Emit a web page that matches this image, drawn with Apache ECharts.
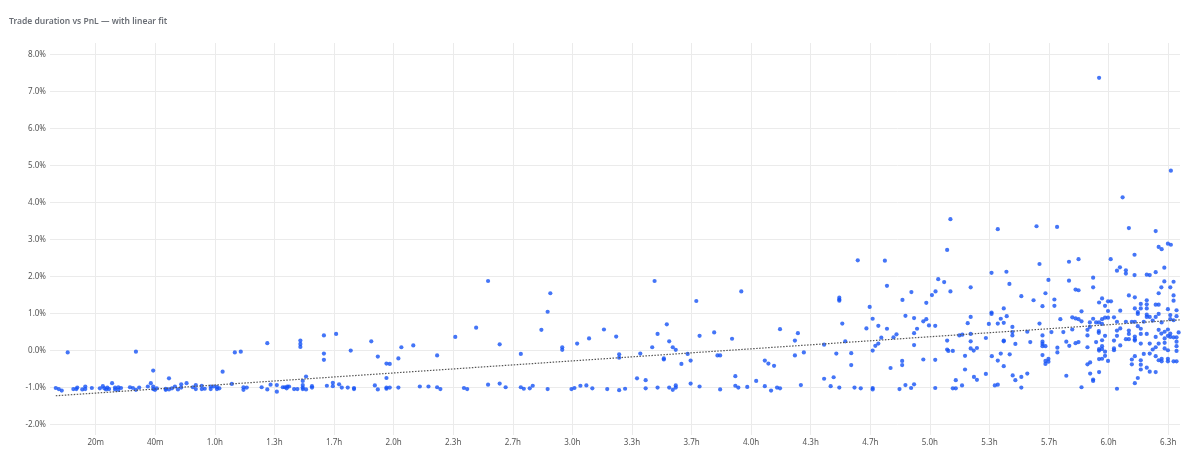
<!DOCTYPE html>
<html>
<head>
<meta charset="utf-8">
<script src="https://cdn.jsdelivr.net/npm/echarts@6/dist/echarts.min.js"></script>
<style>
html,body{margin:0;padding:0;background:#fff;}
#chart{width:1200px;height:465px;}
</style>
</head>
<body>
<div id="chart"></div>
<script>
// Trade duration in minutes and PnL in percent
const tradePoints = [
[6.6,-1.01],[7.6,-1.04],[8.6,-1.08],[10.6,-0.05],[12.5,-1.04],[13.5,-1.04],[13.8,-1.0],[15.5,-1.05],[16.5,-0.97],[16.5,-1.04],[18.7,-1.01],[21.4,-1.02],[22.4,-0.96],[22.9,-1.02],[23.5,-1.05],[23.9,-1.0],[24.5,-1.04],[25.5,-0.88],[26.5,-1.05],[26.5,-1.0],[27.6,-0.99],[27.6,-1.06],[28.5,-1.01],[31.5,-0.99],[32.5,-1.01],[33.5,-0.03],[33.5,-1.06],[34.6,-1.0],[37.5,-0.97],[38.5,-0.88],[39.3,-0.54],[39.3,-0.97],[39.3,-1.04],[39.9,-1.06],[40.5,-1.02],[43.5,-1.06],[43.5,-1.03],[44.6,-0.75],[44.6,-1.05],[45.6,-1.02],[46.6,-0.97],[47.6,-1.05],[48.7,-0.91],[48.7,-1.0],[50.5,-0.88],[52.6,-0.99],[53.6,-0.93],[53.6,-1.04],[55.6,-0.95],[55.6,-1.04],[56.6,-1.03],[58.6,-0.97],[58.6,-1.04],[59.6,-0.97],[60.7,-0.98],[60.7,-1.04],[61.5,-1.02],[62.6,-0.57],[65.7,-0.90],[66.7,-0.05],[68.7,-0.03],[69.6,-0.99],[69.6,-1.06],[70.7,-1.0],[75.7,-0.99],[77.6,0.20],[77.6,-1.05],[78.7,-0.92],[80.8,-0.93],[80.8,-1.11],
[82.8,-0.99],[83.5,-0.99],[84.1,-1.02],[84.3,-0.97],[84.9,-0.97],[86.6,-1.04],[87.7,-1.04],[88.7,0.27],[88.7,0.18],[88.7,0.10],[89.5,-0.82],[89.5,-0.93],[89.5,-1.0],[89.5,-1.04],[90.6,-0.70],[90.6,-1.05],[92.6,-0.96],[92.6,-1.0],[96.6,0.41],[96.6,-0.08],[96.6,-0.25],[97.6,-0.95],[99.6,-0.87],[99.6,-0.96],[100.7,0.45],[101.7,-0.91],[102.6,-1.0],[104.6,-1.0],[105.6,0.0],[106.7,-1.01],[106.7,-1.04],[112.5,0.25],[113.7,-0.94],[114.7,-0.16],[114.7,-1.05],[117.6,-0.35],[118.7,-0.36],[117.6,-0.74],[117.6,-1.0],[117.6,-1.03],[118.7,-1.0],[121.6,-0.21],[121.6,-1.0],[122.6,0.09],[126.6,0.14],[128.8,-0.97],[131.7,-0.97],[134.6,-0.13],[134.6,-0.99],[135.7,-1.04],[140.7,0.37],[143.6,-1.01],[144.7,-1.04],[147.7,0.62],
[151.7,1.88],[155.6,0.17],[151.7,-0.92],[155.6,-0.89],[157.6,-0.99],[162.7,-0.09],[162.7,-0.99],[163.7,-1.03],[165.7,-1.02],[166.7,-0.95],[169.6,0.56],[171.7,1.05],[172.6,1.55],[171.7,-1.04],[176.6,0.09],[176.6,0.02],[179.7,-1.04],[180.7,-1.01],[181.6,0.19],[182.7,-0.95],[184.7,-0.94],[185.6,0.33],[186.7,-1.02],[190.6,0.57],[191.7,-1.04],[194.7,0.38],[195.7,-0.10],[195.7,-0.19],[195.7,-1.07],[197.7,-1.03],[201.7,-0.75],[202.8,-0.08],[204.6,-0.80],[204.6,-1.02],[206.8,0.09],[207.6,1.88],[208.6,0.45],[208.6,-1.0],[210.7,-0.21],[210.7,-0.24],[211.7,0.71],[212.5,0.25],[212.5,-1.0],
[213.7,0.09],[214.7,0.02],[213.7,-1.06],[214.7,-0.94],[214.7,-1.0],[216.6,-0.36],[218.7,-0.09],[219.7,-0.27],[219.7,-0.89],[221.6,1.34],[222.7,0.40],[222.7,-0.97],[227.6,0.49],[228.7,-0.13],[229.6,-0.13],[229.6,-1.05],[233.6,0.32],[234.7,-0.69],[234.7,-0.95],[235.7,-1.0],[236.7,1.60],[238.7,-0.98],[241.7,-0.82],[244.6,-0.27],[244.6,-0.96],[245.8,-0.35],[246.7,-1.08],[247.7,-0.41],[248.7,-1.0],[249.7,-1.02],[249.7,0.58],[254.7,0.27],[254.7,-0.13],[255.7,0.47],[256.7,-0.93],[257.7,-0.05],[264.5,-0.76],[264.5,0.16],[266.7,-0.96],[267.7,-0.72],[268.6,-0.08],[269.6,1.43],[269.6,1.38],[269.6,1.35],[269.6,-1.0],[270.6,0.73],[271.6,0.25],[273.6,-0.07],[273.6,-0.39],[274.7,-1.0],
[306.9,3.55],[305.8,2.72],[275.8,2.44],[284.9,2.43],[302.8,1.93],[304.8,1.85],[306.9,1.60],[313.7,1.71],[285.6,1.75],[293.8,1.58],[301.9,1.60],[300.7,1.50],[290.8,1.37],[298.8,1.29],[279.8,1.18],[291.8,0.94],[294.7,0.88],[298.8,0.85],[297.8,0.79],[280.8,0.86],[313.7,0.91],[312.7,0.74],[278.7,0.60],[282.7,0.67],[285.6,0.59],[295.7,0.59],[299.7,0.68],[301.8,0.67],[288.8,0.44],[294.7,0.47],[287.8,0.36],[283.7,0.35],[309.9,0.41],[310.9,0.43],[313.7,0.45],[282.7,0.19],[281.7,0.13],[280.8,0.0],[294.7,0.15],[305.8,0.27],[305.8,0.03],[306.2,-0.01],[307.7,-0.01],[313.7,0.25],[313.7,0.06],[314.7,0.0],[315.8,0.07],[311.8,-0.14],[311.8,-0.51],[290.7,-0.28],[290.7,-0.39],[297.8,-0.24],[301.8,-0.25],[286.8,-0.47],[314.8,-0.71],[315.8,-0.79],[308.7,-0.80],[310.8,-0.94],[291.8,-0.93],[294.7,-0.91],[276.8,-1.02],[280.8,-1.01],[280.8,-1.05],[289.8,-1.04],[293.7,-1.01],[301.8,-1.01],[307.7,-1.02],[308.7,-1.02],
[322.8,3.28],[335.8,3.36],[342.7,3.34],[336.8,2.34],[346.7,2.40],[349.9,2.47],[320.7,2.10],[325.7,2.13],[339.8,1.91],[346.7,1.89],[326.7,1.80],[348.9,1.65],[349.9,1.63],[330.7,1.47],[338.8,1.55],[334.8,1.36],[341.8,1.38],[337.8,1.20],[341.8,1.21],[324.8,1.14],[320.7,1.03],[320.7,0.99],[350.9,1.06],[325.8,0.93],[323.8,0.86],[324.8,0.75],[322.8,0.73],[319.8,0.72],[343.8,0.85],[347.8,0.90],[348.9,0.87],[349.9,0.85],[350.9,0.79],[336.8,0.73],[327.7,0.64],[327.7,0.50],[327.7,0.41],[332.7,0.51],[337.8,0.41],[340.8,0.50],[344.8,0.50],[347.8,0.57],[352.9,0.56],[352.9,0.41],[318.8,0.34],[324.8,0.27],[324.8,0.25],[328.7,0.18],[333.7,0.23],[337.8,0.24],[337.8,0.18],[337.8,0.12],[338.8,0.12],[342.8,0.08],[345.8,0.24],[346.8,0.13],[348.9,0.20],[349.9,0.23],[352.9,0.09],[323.8,-0.08],[326.8,-0.10],[320.8,-0.15],[342.8,-0.05],[337.8,-0.12],[322.8,-0.27],[339.8,-0.22],[339.8,-0.30],[338.8,-0.28],[338.8,-0.36],[324.8,-0.42],[318.8,-0.63],[327.8,-0.67],[330.7,-0.71],[332.7,-0.62],[328.7,-0.80],[345.8,-0.68],[321.8,-0.94],[322.8,-0.92],[330.7,-1.0],[350.9,-0.99],[352.9,-0.37],[353.8,-0.32],[353.8,-0.62],
[356.8,7.37],[380.9,4.86],[364.7,4.14],[366.8,3.31],[375.8,3.23],[379.9,2.89],[380.9,2.86],[376.8,2.80],[377.8,2.74],[368.7,2.59],[360.7,2.47],[378.7,2.24],[363.8,2.25],[362.8,2.16],[365.8,2.17],[365.8,2.08],[368.7,2.04],[372.8,2.05],[373.8,2.04],[375.8,2.12],[354.8,1.97],[378.7,1.87],[381.8,1.86],
[354.8,1.71],[377.7,1.71],[380.7,1.71],[376.8,1.55],[381.8,1.49],[366.8,1.49],[368.8,1.44],[357.8,1.41],[356.8,1.30],[360.8,1.33],[359.8,1.33],[358.8,1.21],[381.8,1.35],[372.8,1.36],[375.8,1.24],[376.8,1.24],[370.8,1.26],[372.8,1.25],[368.8,1.14],[370.8,1.14],[372.8,1.14],[359.8,1.07],[369.8,1.04],[369.8,0.99],[372.8,0.97],[372.8,0.91],[373.8,0.91],[376.8,0.99],[375.8,0.91],[379.9,1.12],[382.8,1.09],[363.9,1.08],[361.8,0.90],[358.8,0.89],[359.8,0.89],[357.8,0.85],[354.8,0.86],[353.7,0.76],[355.8,0.76],[356.8,0.76],[357.8,0.72],[362.8,0.78],[365.8,0.78],[367.8,0.78],[368.8,0.78],[371.8,0.78],[374.8,0.81],[377.8,0.76],[380.7,0.96],[382.8,0.93],[380.7,0.85],[381.8,0.82],[353.7,0.64],[356.7,0.53],[356.7,0.48],[362.8,0.54],[363.9,0.60],[366.8,0.54],[369.8,0.66],[370.8,0.59],[372.8,0.45],[370.8,0.45],[376.8,0.56],[379.9,0.57],[378.8,0.51],[380.7,0.46],[380.7,0.37],[379.9,0.40],[377.7,0.46],[383.5,0.49],[358.8,0.40],[362.8,0.40],[361.8,0.27],[365.8,0.31],[366.8,0.31],[368.8,0.38],[368.8,0.31],[368.8,0.27],[366.8,0.45],[370.8,0.19],[373.8,0.19],[375.8,0.37],[376.8,0.19],[378.8,0.33],[378.8,0.21],[381.8,0.36],[382.8,0.36],[382.8,0.24],[355.8,0.23],[357.8,0.28],[356.8,0.04],[356.8,0.0],[357.8,0.12],[357.8,0.04],[361.8,0.06],[361.8,0.01],[363.9,0.14],[358.8,-0.03],[358.8,-0.14],[371.8,-0.09],[373.8,-0.08],[374.8,0.03],[375.8,0.09],[378.8,0.06],[379.9,0.01],[382.8,0.12],[382.8,-0.01],[368.8,-0.15],[375.8,-0.15],[377.8,-0.22],[377.8,-0.29],[376.8,-0.26],[379.9,-0.22],[379.9,-0.29],[381.8,-0.29],[382.8,-0.29],[356.8,-0.23],[357.8,-0.22],[359.8,-0.28],[367.8,-0.24],[370.8,-0.26],[370.8,-0.38],[367.8,-0.37],[372.8,-0.46],[373.8,-0.57],[370.8,-0.51],[375.8,-0.58],[356.8,-0.58],[354.8,-0.78],[354.8,-0.82],[369.8,-0.74],[368.8,-0.88],[362.8,-1.03]
];

// Linear fit line endpoints
const fitDuration = [6.6, 383.9];
const fitPnl = [-1.22, 0.83];

// Axis ranges
const durationRange = [4.66, 383.96];
const pnlRange = [-2.28, 8.31];

const chart = echarts.init(document.getElementById('chart'));
const font = '"Noto Sans", "Open Sans", sans-serif';

chart.setOption({
  animation: false,
  backgroundColor: '#ffffff',
  title: {
    text: 'Trade duration vs PnL \u2014 with linear fit',
    left: 4,
    top: 12,
    textStyle: { fontSize: 8.5, fontWeight: 600, color: '#6b6f76', fontFamily: font }
  },
  grid: { left: 50, right: 20, top: 43, bottom: 30, containLabel: false },
  xAxis: {
    type: 'value',
    min: durationRange[0],
    max: durationRange[1],
    minInterval: 20,
    maxInterval: 20,
    axisLine: { show: false },
    axisTick: { show: false },
    splitLine: { show: true, showMinLine: false, showMaxLine: false, lineStyle: { color: '#ebebeb', width: 1 } },
    axisLabel: {
      showMinLabel: false,
      showMaxLabel: false,
      margin: 4,
      fontSize: 8,
      color: '#555',
      fontFamily: font,
      formatter: function (v) {
        if (v < 60) return Math.round(v) + 'm';
        return (v / 60).toFixed(1) + 'h';
      }
    }
  },
  yAxis: {
    type: 'value',
    min: pnlRange[0],
    max: pnlRange[1],
    minInterval: 1,
    maxInterval: 1,
    axisLine: { show: false },
    axisTick: { show: false },
    splitLine: { show: true, showMinLine: false, showMaxLine: false, lineStyle: { color: '#ebebeb', width: 1 } },
    axisLabel: {
      showMinLabel: false,
      showMaxLabel: false,
      margin: 4,
      fontSize: 8,
      color: '#555',
      fontFamily: font,
      formatter: function (v) { return v.toFixed(1) + '%'; }
    }
  },
  series: [
    {
      type: 'scatter',
      data: tradePoints,
      symbol: 'circle',
      symbolSize: 4.2,
      itemStyle: { color: '#1552f5' },
      z: 2
    },
    {
      type: 'line',
      data: fitDuration.map((d, i) => [d, fitPnl[i]]),
      showSymbol: false,
      symbol: 'none',
      lineStyle: { color: '#555', width: 1.2, type: [1.5, 1.5] },
      z: 3
    }
  ]
});
</script>
</body>
</html>
